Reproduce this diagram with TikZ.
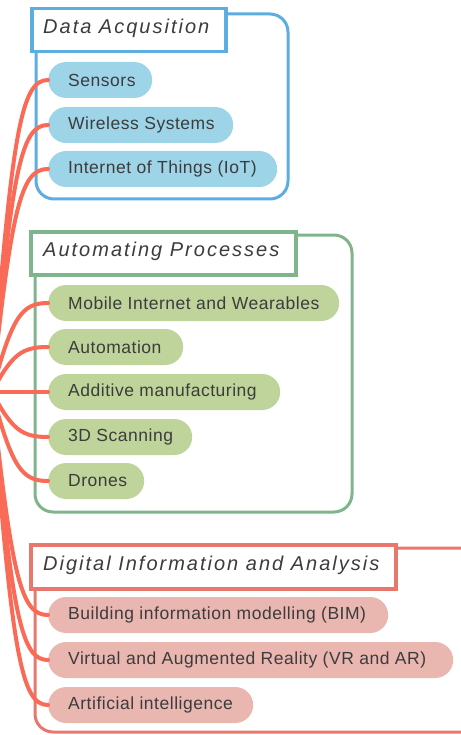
\documentclass[tikz,border=0pt]{standalone}
\usepackage{fontspec}
\setmainfont{Liberation Sans}[LetterSpace=3]
\newfontfamily\titlefont[LetterSpace=10]{Liberation Sans}
\definecolor{conn}{HTML}{F96B57}
\definecolor{bluebd}{HTML}{5DAEE0}
\definecolor{bluefill}{HTML}{9DD4E8}
\definecolor{greenbd}{HTML}{80B48C}
\definecolor{greenfill}{HTML}{BED49A}
\definecolor{redbd}{HTML}{E8786E}
\definecolor{redfill}{HTML}{E9B6B0}
\definecolor{txt}{HTML}{3C3C3C}
\newcommand{\pilltext}[2]{\makebox[#1pt][l]{#2}}
\tikzset{
  x=1pt, y=-1pt,
  groupbox/.style={line width=3pt, rounded corners=18pt},
  titlebox/.style={draw, line width=3.5pt, fill=white, anchor=north west, inner sep=0pt},
  titletext/.style={font=\titlefont\fontsize{20}{24}\selectfont\itshape, text=txt, anchor=west, inner sep=0pt},
  pill/.style={anchor=west, minimum height=36pt, rounded corners=18pt, inner xsep=20pt, inner ysep=0pt,
     font=\fontsize{17.5}{21}\selectfont, text=txt},
  branch/.style={draw=conn, line width=4pt, line cap=round},
}
\begin{document}
\begin{tikzpicture}
\useasboundingbox (0,0) rectangle (460,735);
\coordinate (root) at (-8,392);

% group frames
\draw[groupbox, draw=bluebd] (36,14) rectangle (288,199);
\draw[groupbox, draw=greenbd] (35,235) rectangle (352,512);
\draw[groupbox, draw=redbd] (35,548) rectangle (490,732);

% pills
\node[pill, fill=bluefill] (sensors) at (48,80) {\pilltext{64}{Sensors}};
\node[pill, fill=bluefill] (wireless) at (48,125) {\pilltext{145}{Wireless Systems}};
\node[pill, fill=bluefill] (iot) at (48,169) {\pilltext{189}{Internet of Things (IoT)}};

\node[pill, fill=greenfill] (mobile) at (48,303) {\pilltext{251}{Mobile Internet and Wearables}};
\node[pill, fill=greenfill] (automation) at (48,347) {\pilltext{95}{Automation}};
\node[pill, fill=greenfill] (additive) at (48,392) {\pilltext{192}{Additive manufacturing}};
\node[pill, fill=greenfill] (scan) at (48,437) {\pilltext{104}{3D Scanning}};
\node[pill, fill=greenfill] (drones) at (48,481) {\pilltext{56}{Drones}};

\node[pill, fill=redfill] (bim) at (48,615) {\pilltext{300}{Building information modelling (BIM)}};
\node[pill, fill=redfill] (vr) at (48,660) {\pilltext{365}{Virtual and Augmented Reality (VR and AR)}};
\node[pill, fill=redfill] (ai) at (48,705) {\pilltext{165}{Artificial intelligence}};

% connectors
\draw[branch] (root) .. controls (12,127) and (22,80) .. (sensors.west);
\draw[branch] (root) .. controls (12,165) and (22,125) .. (wireless.west);
\draw[branch] (root) .. controls (12,202) and (22,169) .. (iot.west);
\draw[branch] (root) .. controls (12,316) and (22,303) .. (mobile.west);
\draw[branch] (root) .. controls (12,354) and (22,347) .. (automation.west);
\draw[branch] (root) -- (additive.west);
\draw[branch] (root) .. controls (12,430) and (22,437) .. (scan.west);
\draw[branch] (root) .. controls (12,468) and (22,481) .. (drones.west);
\draw[branch] (root) .. controls (12,582) and (22,615) .. (bim.west);
\draw[branch] (root) .. controls (12,620) and (22,660) .. (vr.west);
\draw[branch] (root) .. controls (12,658) and (22,705) .. (ai.west);

% title boxes
\node[titlebox, draw=bluebd, minimum width=194pt, minimum height=43pt] (t1) at (30,7) {};
\node[titletext] (t1text) at (43,28.5) {Data Acqusition};
\node[titlebox, draw=greenbd, minimum width=265pt, minimum height=43pt] (t2) at (29,230) {};
\node[titletext] (t2text) at (43,251.5) {Automating Processes};
\node[titlebox, draw=redbd, minimum width=365pt, minimum height=44pt] (t3) at (29,543) {};
\node[titletext] (t3text) at (43,565) {Digital Information and Analysis};
\end{tikzpicture}
\end{document}
